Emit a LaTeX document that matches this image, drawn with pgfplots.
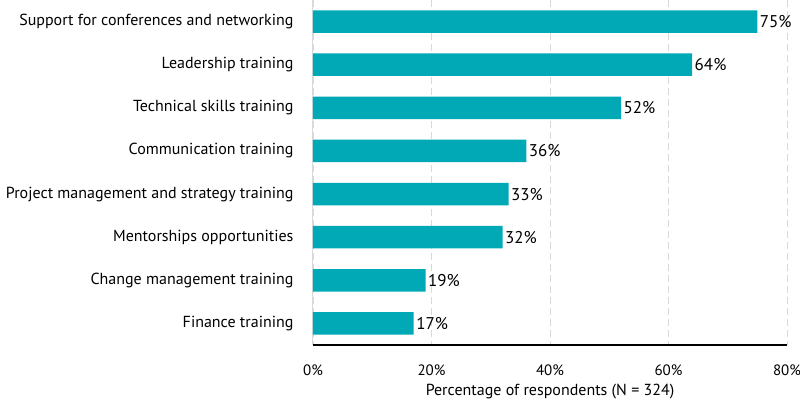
\documentclass[border=0pt]{standalone}
\usepackage{fontspec}
\setmainfont{PT Sans}
\usepackage{pgfplots}
\pgfplotsset{compat=1.18}
\definecolor{barteal}{HTML}{00A9B5}
\definecolor{gridgray}{HTML}{D9D9D9}
\begin{document}
\begin{tikzpicture}[x=1pt,y=1pt]
\path[use as bounding box] (-313,-55) rectangle (487,345);
\begin{axis}[
    at={(0,0)}, anchor=south west,
    scale only axis,
    width=474pt, height=345pt,
    xbar, bar width=22.5pt,
    xmin=0, xmax=80,
    ymin=-0.5, ymax=7.5,
    y dir=reverse,
    xtick={0,20,40,60,80},
    xticklabel={\pgfmathprintnumber{\tick}\%},
    ytick={0,1,2,3,4,5,6,7},
    yticklabels={Support for conferences and networking, Leadership training, Technical skills training, Communication training\hspace{4pt}, Project management and strategy training, Mentorships opportunities, Change management training, Finance training},
    major tick length=0pt,
    xmajorgrids=true,
    grid style={gridgray, dashed, line width=0.9pt, dash pattern=on 7pt off 4pt},
    axis x line*=bottom, axis y line*=left,
    x axis line style={black, line width=1.2pt, -},
    y axis line style={gridgray, line width=1pt, -},
    xlabel={Percentage of respondents (N = 324)},
    xlabel style={at={(0.5,0)}, anchor=base, yshift=-50pt},
    xticklabel style={font=\fontsize{15}{16}\selectfont, anchor=base, yshift=-30pt},
    yticklabel style={font=\fontsize{16}{17}\selectfont, xshift=-16pt},
    label style={font=\fontsize{16}{17}\selectfont},
    /pgf/number format/assume math mode=true,
    nodes near coords={\pgfmathprintnumber{\pgfplotspointmeta}\%},
    nodes near coords style={font=\fontsize{17}{18}\selectfont, black, anchor=west, xshift=-1pt},
    clip=false,
]
\addplot[fill=barteal, draw=none] coordinates {
(75,0) (64,1) (52,2) (36,3) (33,4) (32,5) (19,6) (17,7)};
\end{axis}
\end{tikzpicture}
\end{document}
